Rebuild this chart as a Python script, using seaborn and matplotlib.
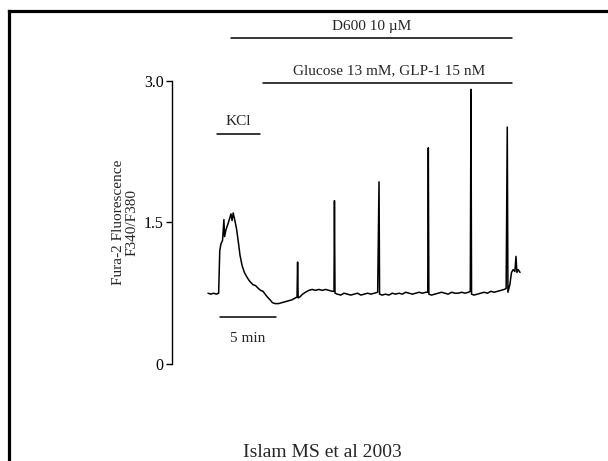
import matplotlib
matplotlib.use("Agg")
import matplotlib.pyplot as plt
from matplotlib.lines import Line2D
import seaborn as sns
import pandas as pd

# trace: time (min) vs Fura-2 ratio F340/F380
time_min = [
    0.00, 0.25, 0.50, 0.75, 0.95, 1.05, 1.15, 1.30, 1.42, 1.48, 1.60, 1.80,
    1.95, 2.05, 2.15, 2.25, 2.40, 2.55, 2.70, 2.86, 3.05, 3.25, 3.48, 3.70,
    3.85, 4.02, 4.25, 4.50, 4.70, 4.91, 5.10, 5.30, 5.54, 5.75, 5.98, 6.30,
    6.60, 6.90, 7.20, 7.50, 7.80, 7.95, 8.00, 8.05, 8.20, 8.45, 8.70, 9.00,
    9.30, 9.60, 9.90, 10.20, 10.50, 10.80, 11.10, 11.25, 11.29, 11.34, 11.55,
    11.85, 12.15, 12.45, 12.75, 13.05, 13.35, 13.65, 13.95, 14.25, 14.55,
    14.85, 15.15, 15.27, 15.32, 15.55, 15.85, 16.15, 16.45, 16.75, 17.05,
    17.35, 17.65, 17.95, 18.25, 18.55, 18.85, 19.15, 19.45, 19.62, 19.67,
    19.72, 19.95, 20.25, 20.55, 20.85, 21.15, 21.45, 21.75, 22.05, 22.35,
    22.65, 22.95, 23.25, 23.42, 23.48, 23.53, 23.75, 24.05, 24.35, 24.65,
    24.95, 25.25, 25.55, 25.85, 26.15, 26.45, 26.62, 26.72, 26.78, 26.95,
    27.10, 27.25, 27.40, 27.50, 27.58, 27.70, 27.86,
]
ratio = [
    0.75, 0.74, 0.75, 0.74, 0.75, 1.20, 1.27, 1.31, 1.53, 1.35, 1.42, 1.49,
    1.55, 1.59, 1.52, 1.60, 1.52, 1.43, 1.30, 1.15, 1.04, 0.97, 0.92, 0.88,
    0.86, 0.84, 0.83, 0.80, 0.78, 0.77, 0.74, 0.71, 0.68, 0.65, 0.64, 0.64,
    0.65, 0.66, 0.67, 0.68, 0.70, 0.71, 1.08, 0.70, 0.71, 0.74, 0.76, 0.78,
    0.79, 0.78, 0.79, 0.78, 0.79, 0.78, 0.77, 0.77, 1.73, 0.75, 0.74,
    0.73, 0.75, 0.74, 0.73, 0.74, 0.75, 0.73, 0.74, 0.75, 0.74,
    0.75, 0.76, 1.93, 0.74, 0.73, 0.74, 0.73, 0.75, 0.74, 0.75,
    0.74, 0.76, 0.75, 0.74, 0.75, 0.76, 0.75, 0.76, 0.76, 2.29,
    0.74, 0.73, 0.74, 0.75, 0.76, 0.75, 0.74, 0.76, 0.75, 0.75,
    0.76, 0.75, 0.76, 0.77, 2.91, 0.74, 0.73, 0.74, 0.75, 0.76,
    0.75, 0.77, 0.76, 0.77, 0.78, 0.79, 0.80, 2.51, 0.76, 0.84,
    0.97, 1.00, 0.98, 1.14, 0.97, 1.00, 0.97,
]

y_ticks = [0, 1.5, 3.0]
y_ticklabels = ["0", "1.5", "3.0"]

# treatment bars: (label, start, end, label centre) in minutes
treatments = [
    ("D600 10 µM", 2.05, 27.14, 14.6),
    ("Glucose 13 mM, GLP-1 15 nM", 4.91, 27.14, 16.2),
    ("KCl", 0.80, 4.64, 2.72),
]
treatment_levels = [3.45, 2.98, 2.44]
scale_bar = (1.07, 6.07)  # 5 min

sns.set_theme(style="white")
plt.rcParams["font.family"] = ["Liberation Serif", "DejaVu Serif"]

fig = plt.figure(figsize=(6.08, 4.61), dpi=100)
ax = fig.add_axes([172 / 608, 97 / 461, 428 / 608, 364 / 461])

df = pd.DataFrame({"time": time_min, "ratio": ratio})
sns.lineplot(data=df, x="time", y="ratio", ax=ax, color="black", lw=1.1,
             estimator=None, sort=False)

ax.set_xlim(-3.214, 35.0)
ax.set_ylim(0, 3.856)
ax.set_xlabel("")
ax.set_ylabel("")
ax.set_xticks([])
ax.set_yticks(y_ticks)
ax.set_yticklabels(y_ticklabels, fontsize=11.5)
for side in ["top", "right", "bottom"]:
    ax.spines[side].set_visible(False)
ax.spines["left"].set_bounds(0, 3.0)
ax.spines["left"].set_color("black")
ax.spines["left"].set_linewidth(1.0)
ax.tick_params(axis="y", direction="out", length=4, width=1.0, colors="black",
               left=True, pad=2)
ax.patch.set_alpha(0)

# treatment bars and labels
for (label, t0, t1, tc), lev in zip(treatments, treatment_levels):
    ax.plot([t0, t1], [lev, lev], color="black", lw=1.1, clip_on=False)
    ax.text(tc, lev + 0.13, label, ha="center", va="center", fontsize=11)

# scale bar
ax.plot(scale_bar, [0.50, 0.50], color="black", lw=1.1, clip_on=False)
ax.text(sum(scale_bar) / 2, 0.275, "5 min", ha="center", va="center", fontsize=11)

# y label
ax.text(-7.37, 1.5, "Fura-2 Fluorescence\nF340/F380", rotation=90,
        ha="center", va="center", multialignment="center", fontsize=11,
        linespacing=1.0, clip_on=False)

# caption
fig.text(322 / 608, 1 - 452 / 461, "Islam MS et al 2003", ha="center",
         va="center", fontsize=14)

# frame (top and left edges only visible)
fig.add_artist(Line2D([9 / 608, 1.0], [1 - 11 / 461, 1 - 11 / 461],
                      transform=fig.transFigure, color="black", lw=2.3,
                      solid_capstyle="projecting"))
fig.add_artist(Line2D([9 / 608, 9 / 608], [0.0, 1 - 11 / 461],
                      transform=fig.transFigure, color="black", lw=2.3,
                      solid_capstyle="projecting"))

fig.savefig("out.png", dpi=100, facecolor="white")
